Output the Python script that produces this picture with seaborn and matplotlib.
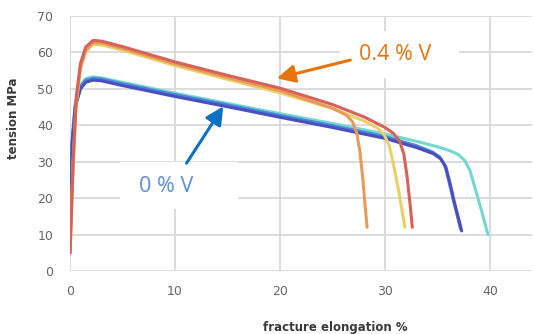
import matplotlib
matplotlib.use("Agg")
import matplotlib.pyplot as plt
from matplotlib.patches import Rectangle
import seaborn as sns
import pandas as pd

# Stress-strain curves, 0.4 % V alloy
red_x = [0, 0.3, 0.6, 1.0, 1.5, 2.2, 3.0, 5, 10, 15, 20, 25, 28, 30, 30.8, 31.4, 31.8, 32.1, 32.4, 32.6]
red_y = [5, 30, 48, 57, 61.5, 63.3, 63.1, 61.6, 57.4, 53.7, 50.2, 45.7, 42.3, 39.4, 37.8, 35.6, 32, 26, 18, 12]

tan_x = [0, 0.3, 0.6, 1.0, 1.5, 2.2, 3.0, 5, 10, 15, 20, 25, 26.3, 26.9, 27.3, 27.6, 27.9, 28.1, 28.3]
tan_y = [5, 30, 47, 56, 60.7, 62.7, 62.6, 61.1, 56.9, 53.1, 49.5, 44.7, 42.8, 41, 38, 33, 25, 18, 12]

yel_x = [0, 0.3, 0.6, 1.0, 1.5, 2.2, 3.0, 5, 10, 15, 20, 25, 28, 29.3, 29.9, 30.4, 30.9, 31.3, 31.6, 31.9]
yel_y = [5, 29, 46, 55.5, 60.2, 62.2, 62.1, 60.6, 56.4, 52.6, 48.9, 44.6, 41.2, 39.2, 37.5, 34.5, 28, 22, 17, 12]

# Stress-strain curves, 0 % V alloy
ind_x = [0, 0.2, 0.5, 1.0, 1.5, 2.2, 3.0, 5, 10, 15, 20, 25, 30, 33, 34.6, 35.3, 35.8, 36.2, 36.6, 37.0, 37.3]
ind_y = [5, 35, 45, 50, 51.8, 52.4, 52.2, 50.9, 47.9, 45.1, 42.2, 39.4, 36.4, 33.9, 32.2, 30.8, 28.5, 24, 19, 14.5, 11]

blu_x = [0, 0.2, 0.5, 1.0, 1.5, 2.2, 3.0, 5, 10, 15, 20, 25, 30, 33, 34.5, 35.2, 35.7, 36.1, 36.5, 36.9, 37.2]
blu_y = [5, 35.5, 45.5, 50.6, 52.4, 52.9, 52.7, 51.4, 48.4, 45.6, 42.7, 39.9, 36.9, 34.4, 32.7, 31.3, 29, 24.5, 19.5, 15, 11.5]

cya_x = [0, 0.2, 0.5, 1.0, 1.5, 2.2, 3.0, 5, 10, 15, 20, 25, 30, 33, 35, 36.3, 37.0, 37.6, 38.1, 38.6, 39.2, 39.8]
cya_y = [5, 36, 46, 51, 52.8, 53.3, 53.0, 51.8, 48.8, 46.0, 43.2, 40.5, 37.6, 35.6, 34.1, 32.9, 31.9, 30.3, 27.5, 22.5, 16.5, 10]

x_ticks = [0, 10, 20, 30, 40]
y_ticks = [0, 10, 20, 30, 40, 50, 60, 70]

curves = {
    "cyan": (cya_x, cya_y, "#74d8cf"),
    "blue": (blu_x, blu_y, "#4a86da"),
    "indigo": (ind_x, ind_y, "#4a4fc0"),
    "yellow": (yel_x, yel_y, "#ebd06a"),
    "tan": (tan_x, tan_y, "#e99a58"),
    "red": (red_x, red_y, "#d6625a"),
}

frames = []
for name, (xs, ys, _) in curves.items():
    frames.append(pd.DataFrame({"elong": xs, "tension": ys, "specimen": name}))
df = pd.concat(frames, ignore_index=True)
palette = {k: v[2] for k, v in curves.items()}

sns.set_theme(style="white")
plt.rcParams["font.family"] = ["DejaVu Sans"]

fig = plt.figure(figsize=(5.34, 3.34), dpi=100)
ax = fig.add_axes([70 / 534, 1 - 271 / 334, 462 / 534, 255 / 334])

sns.lineplot(data=df, x="elong", y="tension", hue="specimen", units="specimen",
             estimator=None, sort=False, palette=palette, linewidth=2.2,
             legend=False, ax=ax, zorder=3)

ax.set_xlim(0, 44)
ax.set_ylim(0, 70)
ax.set_xticks(x_ticks)
ax.set_yticks(y_ticks)
ax.grid(True, color="#d9d9d9", linewidth=1.3, zorder=0)
ax.set_axisbelow(True)
for s in ax.spines.values():
    s.set_visible(False)
ax.tick_params(length=0, labelsize=9, colors="#666666")
ax.tick_params(axis="y", pad=12)
ax.tick_params(axis="x", pad=10)

ax.set_xlabel("fracture elongation %", fontsize=8.5, fontweight="bold", color="#3a3a3a")
ax.set_ylabel("tension MPa", fontsize=8.5, fontweight="bold", color="#3a3a3a")
ax.xaxis.set_label_coords(0.574, -0.195)
ax.yaxis.set_label_coords(-0.108, 0.6)

# white label boxes
ax.add_patch(Rectangle((25.7, 52.9), 11.3, 13.0, facecolor="white", edgecolor="none",
                       zorder=2))
ax.add_patch(Rectangle((4.8, 16.9), 11.2, 13.0, facecolor="white", edgecolor="none",
                       zorder=2))

ax.text(31.0, 59.3, "0.4 % V", color="#e8720c", fontsize=15.5, family="Open Sans",
        ha="center", va="center", zorder=5)
ax.text(9.2, 23.3, "0 % V", color="#5b8fd8", fontsize=15.5, family="Open Sans",
        ha="center", va="center", zorder=5)

ax.annotate("", xy=(19.7, 52.9), xytext=(26.7, 57.9),
            arrowprops=dict(arrowstyle="-|>,head_length=0.9,head_width=0.45",
                            color="#e8720c", lw=2.2, shrinkA=0, shrinkB=0), zorder=6)
ax.annotate("", xy=(14.6, 45.2), xytext=(11.1, 29.6),
            arrowprops=dict(arrowstyle="-|>,head_length=0.9,head_width=0.45",
                            color="#0b70c6", lw=2.2, shrinkA=0, shrinkB=0), zorder=6)

fig.savefig("out.png", dpi=100)
